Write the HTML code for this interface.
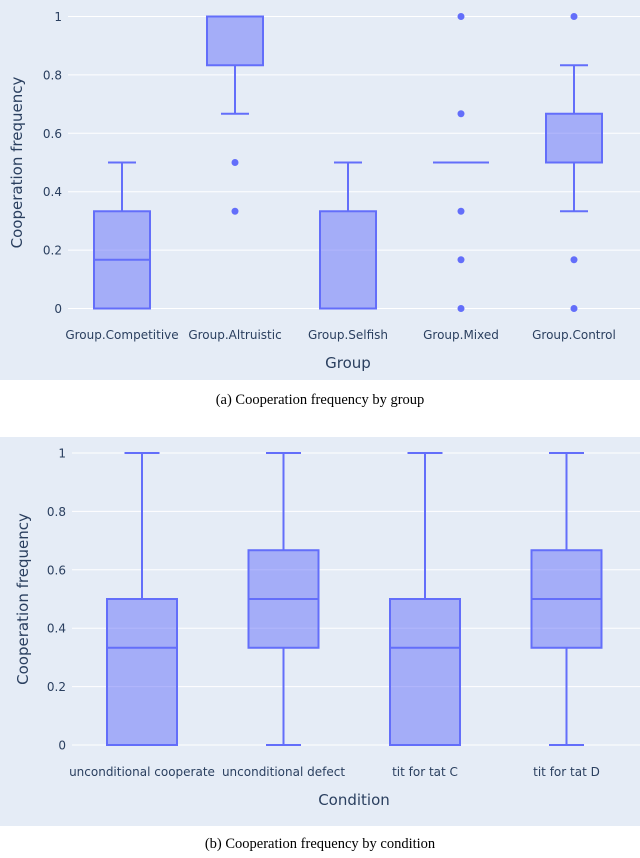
<!DOCTYPE html>
<html><head><meta charset="utf-8"><style>
body{margin:0;background:#fff;width:640px;height:853px;overflow:hidden;font-family:"Liberation Sans",sans-serif}
svg text{font-family:"DejaVu Sans","Liberation Sans",sans-serif;fill:#2a3f5f}
.cap{font-family:"Liberation Serif",serif;fill:#000;font-size:14.5px}
</style></head><body>
<svg id="s" width="640" height="853">
<rect x="0" y="0" width="640" height="380" fill="#e5ecf6"/>
<rect x="0" y="437" width="640" height="389" fill="#e5ecf6"/>
<text class="cap" x="320" y="404" text-anchor="middle">(a) Cooperation frequency by group</text>
<text class="cap" x="320" y="848" text-anchor="middle">(b) Cooperation frequency by condition</text>
<g id="ga"></g><g id="gb"></g>
</svg>
<script>
const ticks=[0,0.2,0.4,0.6,0.8,1];
const tickLabels=["0","0.2","0.4","0.6","0.8","1"];
const catsA=["Group.Competitive","Group.Altruistic","Group.Selfish","Group.Mixed","Group.Control"];
const q1A=[0,0.833,0,0.5,0.5];
const medA=[0.167,1,0,0.5,0.5];
const q3A=[0.333,1,0.333,0.5,0.667];
const loA=[0,0.667,0,0.5,0.333];
const hiA=[0.5,1,0.5,0.5,0.833];
const outA=[[],[0.5,0.333],[],[1,0.667,0.333,0.167,0],[1,0.167,0]];
const catsB=["unconditional cooperate","unconditional defect","tit for tat C","tit for tat D"];
const q1B=[0,0.333,0,0.333];
const medB=[0.333,0.5,0.333,0.5];
const q3B=[0.5,0.667,0.5,0.667];
const loB=[0,0,0,0];
const hiB=[1,1,1,1];
const outB=[[],[],[],[]];
const NS="http://www.w3.org/2000/svg";
function mk(p,t,a){const e=document.createElementNS(NS,t);for(const k in a)e.setAttribute(k,a[k]);p.appendChild(e);return e;}
function draw(g,cfg){
 const y=v=>cfg.y0+(cfg.y1-cfg.y0)*v;
 const x=i=>cfg.xs+i*cfg.dx;
 ticks.forEach((t,i)=>{
  const l=mk(g,'line',{x1:cfg.gx,x2:640,y1:y(t),y2:y(t),stroke:'#fff','stroke-width':1});
  
  
  const tx=mk(g,'text',{x:cfg.gx-6,y:y(t)+4.5,'text-anchor':'end','font-size':12});
  tx.textContent=tickLabels[i];
  
  
 });
 const yt=mk(g,'text',{x:0,y:0,'font-size':15,'text-anchor':'middle',transform:`translate(${cfg.ytx},${(cfg.y0+cfg.y1)/2}) rotate(-90)`});
 yt.textContent='Cooperation frequency';
 
 
 const xt=mk(g,'text',{x:cfg.xtx,y:cfg.xty,'font-size':15,'text-anchor':'middle'});
 xt.textContent=cfg.title;
 
 
 const st='#636efa';
 cfg.cats.forEach((c,i)=>{
  const cx=x(i),hw=cfg.bw/2,cw=cfg.bw/4;
  const bg=mk(g,'g',{});
  
  
  mk(bg,'line',{x1:cx,x2:cx,y1:y(cfg.hi[i]),y2:y(cfg.q3[i]),stroke:st,'stroke-width':2});
  mk(bg,'line',{x1:cx,x2:cx,y1:y(cfg.q1[i]),y2:y(cfg.lo[i]),stroke:st,'stroke-width':2});
  mk(bg,'line',{x1:cx-cw,x2:cx+cw,y1:y(cfg.hi[i]),y2:y(cfg.hi[i]),stroke:st,'stroke-width':2});
  mk(bg,'line',{x1:cx-cw,x2:cx+cw,y1:y(cfg.lo[i]),y2:y(cfg.lo[i]),stroke:st,'stroke-width':2});
  mk(bg,'rect',{x:cx-hw,y:y(cfg.q3[i]),width:cfg.bw,height:Math.max(0,y(cfg.q1[i])-y(cfg.q3[i])),fill:'rgba(99,110,250,0.5)',stroke:st,'stroke-width':2});
  mk(bg,'line',{x1:cx-hw,x2:cx+hw,y1:y(cfg.med[i]),y2:y(cfg.med[i]),stroke:st,'stroke-width':2});
  cfg.out[i].forEach(v=>{
   const d=mk(g,'circle',{cx:cx,cy:y(v),r:3.5,fill:st});
   
   
  });
  const lt=mk(g,'text',{x:cx,y:cfg.xly,'font-size':12,'text-anchor':'middle'});
  lt.textContent=c;
  
  
 });
}
draw(document.getElementById('ga'),{y0:308.5,y1:16.5,xs:122,dx:113,bw:56,gx:68,ytx:22,xtx:348,xty:368,xly:339,title:'Group',cats:catsA,q1:q1A,med:medA,q3:q3A,lo:loA,hi:hiA,out:outA});
draw(document.getElementById('gb'),{y0:745,y1:453,xs:142,dx:141.5,bw:70,gx:72,ytx:28,xtx:354,xty:805,xly:776,title:'Condition',cats:catsB,q1:q1B,med:medB,q3:q3B,lo:loB,hi:hiB,out:outB});
</script>
</body></html>
